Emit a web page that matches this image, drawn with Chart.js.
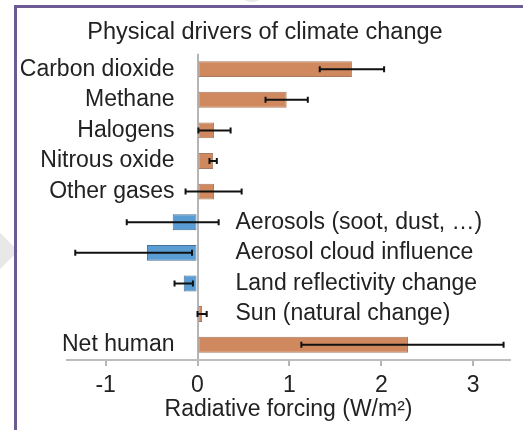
<!DOCTYPE html>
<html>
<head>
<meta charset="utf-8">
<script src="https://cdn.jsdelivr.net/npm/chart.js@4/dist/chart.umd.min.js"></script>
<style>
  html, body { margin: 0; padding: 0; background: #fff; }
  #wrap { position: relative; width: 523px; height: 430px; overflow: hidden; }
  #frame { position: absolute; left: 14px; top: 5px; width: 600px; height: 600px;
           border-top: 3px solid #6c5a94; border-left: 3px solid #6c5a94; }
  .mark { position: absolute; background: #e8e8e8; transform: rotate(45deg); }
  canvas { position: absolute; left: 0; top: 0; }
</style>
</head>
<body>
<div id="wrap">
  <div class="mark" style="left:-18px; top:236px; width:30px; height:30px;"></div>
  <div class="mark" style="left:238px; top:-26px; width:28px; height:28px; border-radius:50%;"></div>
  <div id="frame"></div>
  <canvas id="chart" width="523" height="430"></canvas>
</div>
<script>
const categories = [
  "Carbon dioxide", "Methane", "Halogens", "Nitrous oxide", "Other gases",
  "Aerosols (soot, dust, …)", "Aerosol cloud influence", "Land reflectivity change",
  "Sun (natural change)", "Net human",
];
const forcing = [1.68, 0.97, 0.18, 0.17, 0.18, -0.27, -0.55, -0.15, 0.05, 2.29];
const errLow  = [1.33, 0.74, 0.01, 0.13, -0.13, -0.77, -1.33, -0.25, 0.00, 1.13];
const errHigh = [2.03, 1.20, 0.36, 0.21, 0.48, 0.23, -0.06, -0.05, 0.10, 3.33];
const xTicks = [-1, 0, 1, 2, 3];
// these names sit on the right of the zero line
const rightLabels = ["Aerosols (soot, dust, …)", "Aerosol cloud influence",
  "Land reflectivity change", "Sun (natural change)"];

const FONT = "'Liberation Sans', Arial, sans-serif";
const TEXT = "#222";

const errorBars = {
  id: "errorBars",
  afterDatasetsDraw(chart) {
    const { ctx, scales: { x } } = chart;
    const meta = chart.getDatasetMeta(0);
    ctx.save();
    ctx.strokeStyle = "#111";
    ctx.lineWidth = 2;
    meta.data.forEach((bar, i) => {
      const x1 = x.getPixelForValue(errLow[i]);
      const x2 = x.getPixelForValue(errHigh[i]);
      const y = bar.y;
      ctx.beginPath();
      ctx.moveTo(x1, y); ctx.lineTo(x2, y);
      ctx.moveTo(x1, y - 3); ctx.lineTo(x1, y + 3);
      ctx.moveTo(x2, y - 3); ctx.lineTo(x2, y + 3);
      ctx.stroke();
    });
    ctx.restore();
  },
};

const nameLabels = {
  id: "nameLabels",
  afterDatasetsDraw(chart) {
    const { ctx, scales: { x } } = chart;
    const meta = chart.getDatasetMeta(0);
    const x0 = x.getPixelForValue(0);
    ctx.save();
    ctx.fillStyle = TEXT;
    ctx.font = "23px " + FONT;
    ctx.textBaseline = "middle";
    meta.data.forEach((bar, i) => {
      const name = categories[i];
      if (rightLabels.includes(name)) {
        ctx.textAlign = "left";
        ctx.fillText(name, x0 + 38, bar.y);
      } else {
        ctx.textAlign = "right";
        ctx.fillText(name, x0 - 23, bar.y);
      }
    });
    ctx.restore();
  },
};

new Chart(document.getElementById("chart"), {
  type: "bar",
  data: {
    labels: categories,
    datasets: [{
      data: forcing,
      backgroundColor: (c) => (c.raw < 0 ? "#5a9dd4" : "#d0895f"),
      borderColor: (c) => (c.raw < 0 ? "#4a7096" : "#a67b60"),
      borderWidth: 1,
      borderSkipped: false,
      categoryPercentage: 1,
      barPercentage: 0.52,
    }],
  },
  options: {
    indexAxis: "y",
    responsive: false,
    animation: false,
    layout: { padding: { left: 20, right: 13, bottom: 9 } },
    plugins: {
      legend: { display: false },
      tooltip: { enabled: false },
      title: {
        display: true,
        text: "Physical drivers of climate change",
        color: TEXT,
        font: { family: FONT, size: 23.5, weight: "normal", lineHeight: 1.1 },
        padding: { top: 20, bottom: 8 },
      },
    },
    scales: {
      y: {
        display: true,
        grid: { display: false },
        border: { display: false },
        ticks: { display: false },
        afterFit: (s) => { s.width = 47; },
      },
      x: {
        min: -1.42,
        max: 3.4,
        afterBuildTicks: (s) => { s.ticks = xTicks.map((v) => ({ value: v })); },
        grid: {
          color: (c) => (c.tick && c.tick.value === 0 ? "#b5b5b5" : "rgba(0,0,0,0)"),
          tickColor: "#b5b5b5",
          tickLength: 6,
          lineWidth: 2,
        },
        border: { display: true, color: "#bdbdbd", width: 2 },
        ticks: {
          color: TEXT,
          padding: 8,
          font: { family: FONT, size: 23, lineHeight: 1 },
        },
        title: {
          display: true,
          text: "Radiative forcing (W/m²)",
          color: TEXT,
          padding: { top: -7, bottom: 0 },
          font: { family: FONT, size: 23, lineHeight: 1 },
        },
      },
    },
  },
  plugins: [errorBars, nameLabels],
});
</script>
</body>
</html>
